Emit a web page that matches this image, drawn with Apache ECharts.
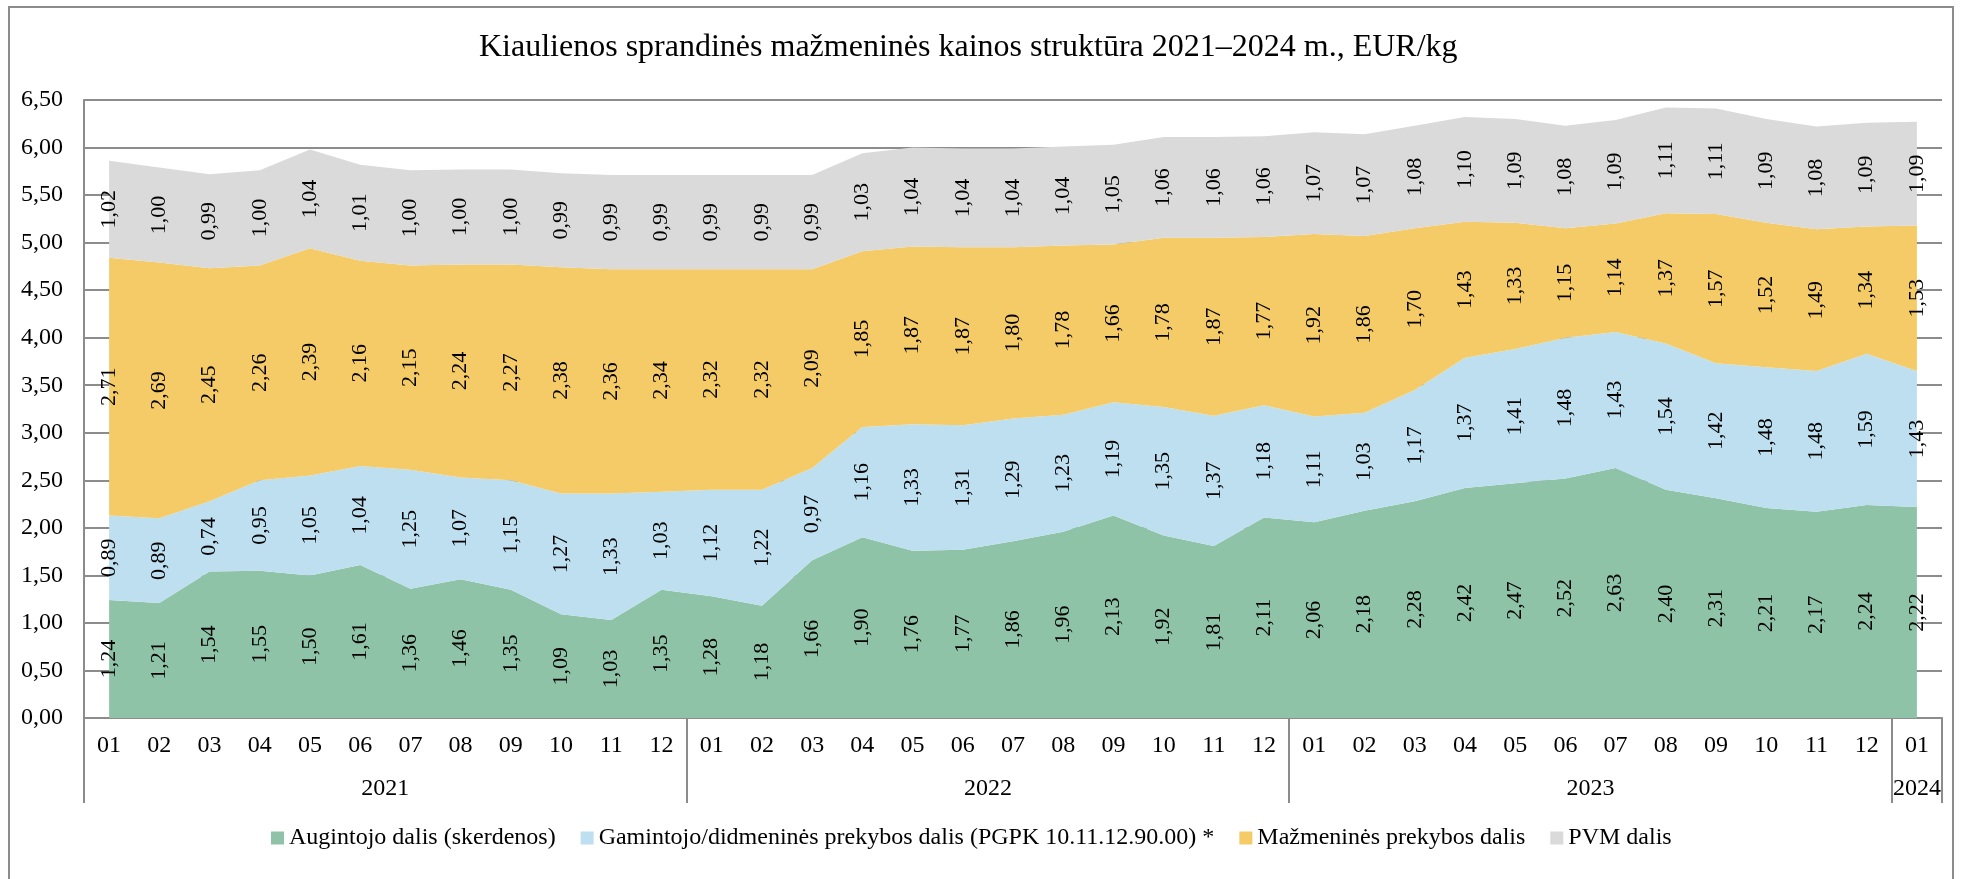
<!DOCTYPE html>
<html>
<head>
<meta charset="utf-8">
<script src="https://cdn.jsdelivr.net/npm/echarts@6/dist/echarts.min.js"></script>
<style>
  html, body { margin: 0; padding: 0; background: #fff; }
  #main { width: 1964px; height: 879px; }
</style>
</head>
<body>
<div id="main"></div>
<script>
  // mėnesiai 2021-01 .. 2024-01
  const months = ['01','02','03','04','05','06','07','08','09','10','11','12',
    '01','02','03','04','05','06','07','08','09','10','11','12',
    '01','02','03','04','05','06','07','08','09','10','11','12',
    '01'];
  const years = ['2021', '2022', '2023', '2024'];
  const yearMonths = [12, 12, 12, 1];

  const seriesNames = [
    'Augintojo dalis (skerdenos)',
    'Gamintojo/didmeninės prekybos dalis (PGPK 10.11.12.90.00) *',
    'Mažmeninės prekybos dalis',
    'PVM dalis'
  ];
  const augintojo = [1.24,1.21,1.54,1.55,1.50,1.61,1.36,1.46,1.35,1.09,1.03,1.35,
    1.28,1.18,1.66,1.90,1.76,1.77,1.86,1.96,2.13,1.92,1.81,2.11,
    2.06,2.18,2.28,2.42,2.47,2.52,2.63,2.40,2.31,2.21,2.17,2.24,
    2.22];
  const gamintojo = [0.89,0.89,0.74,0.95,1.05,1.04,1.25,1.07,1.15,1.27,1.33,1.03,
    1.12,1.22,0.97,1.16,1.33,1.31,1.29,1.23,1.19,1.35,1.37,1.18,
    1.11,1.03,1.17,1.37,1.41,1.48,1.43,1.54,1.42,1.48,1.48,1.59,
    1.43];
  const mazmenine = [2.71,2.69,2.45,2.26,2.39,2.16,2.15,2.24,2.27,2.38,2.36,2.34,
    2.32,2.32,2.09,1.85,1.87,1.87,1.80,1.78,1.66,1.78,1.87,1.77,
    1.92,1.86,1.70,1.43,1.33,1.15,1.14,1.37,1.57,1.52,1.49,1.34,
    1.53];
  const pvm = [1.02,1.00,0.99,1.00,1.04,1.01,1.00,1.00,1.00,0.99,0.99,0.99,
    0.99,0.99,0.99,1.03,1.04,1.04,1.04,1.04,1.05,1.06,1.06,1.06,
    1.07,1.07,1.08,1.10,1.09,1.08,1.09,1.11,1.11,1.09,1.08,1.09,
    1.09];
  const colors = ['#8fc3a7', '#bddff0', '#f4cb66', '#dadada'];

  // metų ribos ir vidurio taškai antrai ašiai
  const yearEdges = [0];
  const yearMids = [];
  yearMonths.forEach(function (n) {
    const start = yearEdges[yearEdges.length - 1];
    yearMids.push(start + n / 2);
    yearEdges.push(start + n);
  });

  const fmt = function (v) { return v.toFixed(2).replace('.', ','); };
  const font = 'Liberation Serif';
  const gray = '#8c8c8c';

  const allData = [augintojo, gamintojo, mazmenine, pvm];
  const series = [];
  allData.forEach(function (d, i) {
    series.push({
      name: seriesNames[i],
      type: 'line',
      stack: 'kaina',
      data: d,
      symbol: 'none',
      z: 2,
      lineStyle: { width: 0 },
      areaStyle: { color: colors[i], opacity: 1 },
      itemStyle: { color: colors[i] },
      silent: true
    });
  });
  // nematomi stulpeliai tik užrašams segmentų viduryje
  allData.forEach(function (d) {
    series.push({
      type: 'bar',
      stack: 'lbl',
      data: d,
      barWidth: 30,
      z: 10,
      silent: true,
      itemStyle: { color: 'rgba(0,0,0,0)' },
      label: {
        show: true,
        position: 'inside',
        rotate: 90,
        color: '#000',
        fontFamily: font,
        fontSize: 22,
        formatter: function (p) { return fmt(p.value); }
      }
    });
  });

  const chart = echarts.init(document.getElementById('main'));
  chart.setOption({
    animation: false,
    title: {
      text: 'Kiaulienos sprandinės mažmeninės kainos struktūra 2021–2024 m., EUR/kg',
      left: 474,
      top: 27,
      textStyle: { fontFamily: font, fontSize: 32, fontWeight: 'normal', color: '#000' }
    },
    graphic: [{
      type: 'rect',
      shape: { x: 9, y: 7, width: 1944, height: 880 },
      style: { fill: 'none', stroke: gray, lineWidth: 2 },
      silent: true
    }],
    legend: {
      data: seriesNames,
      bottom: 24,
      left: 266,
      icon: 'rect',
      itemWidth: 13,
      itemHeight: 13,
      itemGap: 25,
      textStyle: { fontFamily: font, fontSize: 24, color: '#000' }
    },
    grid: { left: 84, right: 22, top: 100, bottom: 161 },
    xAxis: [{
      type: 'category',
      data: months,
      boundaryGap: true,
      axisLine: { lineStyle: { color: gray, width: 2 } },
      axisTick: { show: false },
      axisLabel: { fontFamily: font, fontSize: 24, color: '#000', margin: 16, interval: 0 }
    }, {
      type: 'value',
      min: 0,
      max: months.length,
      position: 'bottom',
      axisLine: { show: false },
      splitLine: { show: false },
      axisTick: {
        show: true,
        customValues: yearEdges,
        length: 85,
        lineStyle: { color: gray, width: 2 }
      },
      axisLabel: {
        customValues: yearMids,
        margin: 59,
        fontFamily: font,
        fontSize: 24,
        color: '#000',
        formatter: function (v) { return years[yearMids.indexOf(v)]; }
      }
    }],
    yAxis: {
      type: 'value',
      min: 0,
      max: 6.5,
      interval: 0.5,
      axisLine: { show: true, lineStyle: { color: gray, width: 2 } },
      axisTick: { show: false },
      splitLine: { lineStyle: { color: gray, width: 2 } },
      axisLabel: { fontFamily: font, fontSize: 24, color: '#000', margin: 21, formatter: fmt }
    },
    series: series
  });
</script>
</body>
</html>
